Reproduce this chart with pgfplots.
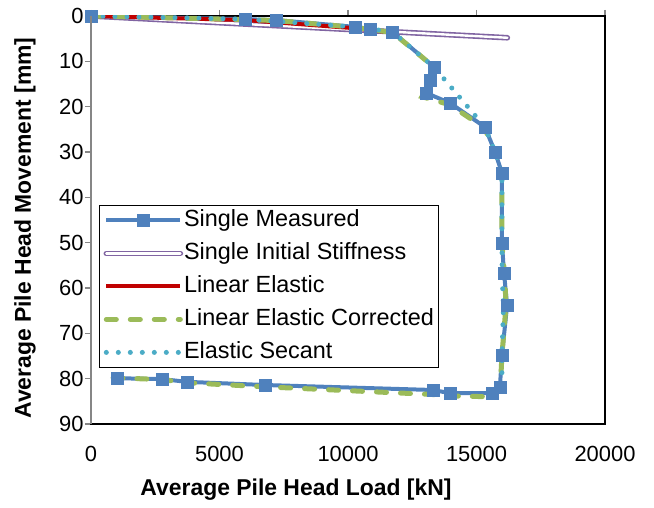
\documentclass[border=0pt]{standalone}
\usepackage{pgfplots}
\pgfplotsset{compat=1.18}
\usepackage{fontspec}
\setmainfont{Liberation Sans}
\definecolor{cBlue}{RGB}{79,129,189}
\definecolor{cPurple}{RGB}{128,100,162}
\definecolor{cRed}{RGB}{192,0,0}
\definecolor{cGreen}{RGB}{155,187,89}
\definecolor{cCyan}{RGB}{75,172,198}
\definecolor{cGray}{RGB}{134,134,134}
\begin{document}
\begin{tikzpicture}[x=1bp,y=1bp]
\useasboundingbox (0,0) rectangle (654,508);
\begin{axis}[
  at={(91bp,84bp)}, anchor=south west,
  scale only axis, width=514bp, height=408bp,
  xmin=0, xmax=20000, ymin=0, ymax=90,
  y dir=reverse,
  xtick={0,5000,10000,15000,20000},
  ytick={0,10,20,30,40,50,60,70,80,90},
  xtick pos=top, xticklabel pos=bottom,
  ytick pos=left,
  tick align=outside,
  major tick length=6bp,
  tick style={cGray, line width=1.2bp},
  axis line style={black, line width=1.5bp},
  scaled x ticks=false,
  /pgf/number format/assume math mode=true,
  /pgf/number format/1000 sep={},
  ticklabel style={font=\fontsize{22}{26}\selectfont},
  xticklabel style={yshift=-13bp},
  yticklabel style={xshift=2bp},
  legend style={at={(0.0156,0.537)}, anchor=north west,
    draw=black, line width=1bp, fill=white,
    font=\fontsize{23.5}{28}\selectfont,
    inner xsep=4bp, inner ysep=3bp,
    row sep=9bp,
    nodes={inner sep=1bp, text height=17bp, text depth=5bp, anchor=west, xshift=2bp}},
  legend cell align=left,
  legend image code/.code={\draw[mark repeat=2,mark phase=2,#1] plot coordinates {(0bp,0bp) (37bp,0bp) (74bp,0bp)};},
]
\addplot[cBlue, line width=4bp, mark=square*, mark size=6bp, mark options={solid, fill=cBlue, draw=cBlue, line width=0.5bp}] coordinates {
(0,0) (6000,0.7) (7200,0.9) (10270,2.4) (10850,2.9) (11730,3.5)
(13350,11.3) (13190,14.1) (13050,17.0) (13970,19.2) (15330,24.5)
(15720,30.0) (15990,34.6) (15990,50.1) (16070,56.7) (16190,63.8)
(15990,74.8) (15910,81.8) (15600,83.2) (13970,83.2) (13310,82.5)
(6770,81.4) (3740,80.7) (2760,80.1) (1010,79.9)};
\addlegendentry{Single Measured}
\addplot[cPurple, line width=1.6bp, double=white, double distance=2.4bp, line cap=round] coordinates {(0,0) (16200,4.8)};
\addlegendentry{Single Initial Stiffness}
\addplot[cRed, line width=4bp] coordinates {
(0,0) (6000,0.9) (10270,2.7) (11730,3.7)};
\addlegendentry{Linear Elastic}
\addplot[cGreen, line width=5bp, line cap=round, dash pattern=on 10bp off 14bp] coordinates {
(0,0) (6000,0.8) (7200,1.0) (10270,2.5) (10850,3.0) (11730,3.6)
(13350,11.3) (13230,13.5) (13120,15.5) (12880,17.8) (13970,19.6)
(15330,24.8) (15720,30.5) (15990,35.0) (15990,50.0) (16100,58.0)
(16150,63.8) (15990,74.8) (15930,81.5) (15600,84.0) (13970,83.8)
(13310,83.5) (6770,81.8) (3740,80.9) (2760,80.2) (860,79.8)};
\addlegendentry{Linear Elastic Corrected}
\addplot[cCyan, line width=5bp, line cap=round, dash pattern=on 0bp off 12bp] coordinates {
(0,0) (6000,0.7) (10270,2.4) (11730,3.5) (13350,11.3) (15330,24.5)
(15720,30.0) (15990,34.6) (15990,50.0) (16000,58.0) (16050,64.0)
(15990,75.0) (15990,80.5)};
\addlegendentry{Elastic Secant}
\end{axis}
\draw[cGray, line width=2bp] (91,84) -- (91,492);
\node[font=\bfseries\fontsize{23}{27}\selectfont] at (296,18) {Average Pile Head Load [kN]};
\node[font=\bfseries\fontsize{23}{27}\selectfont, rotate=90] at (25,280) {Average Pile Head Movement [mm]};
\end{tikzpicture}
\end{document}
